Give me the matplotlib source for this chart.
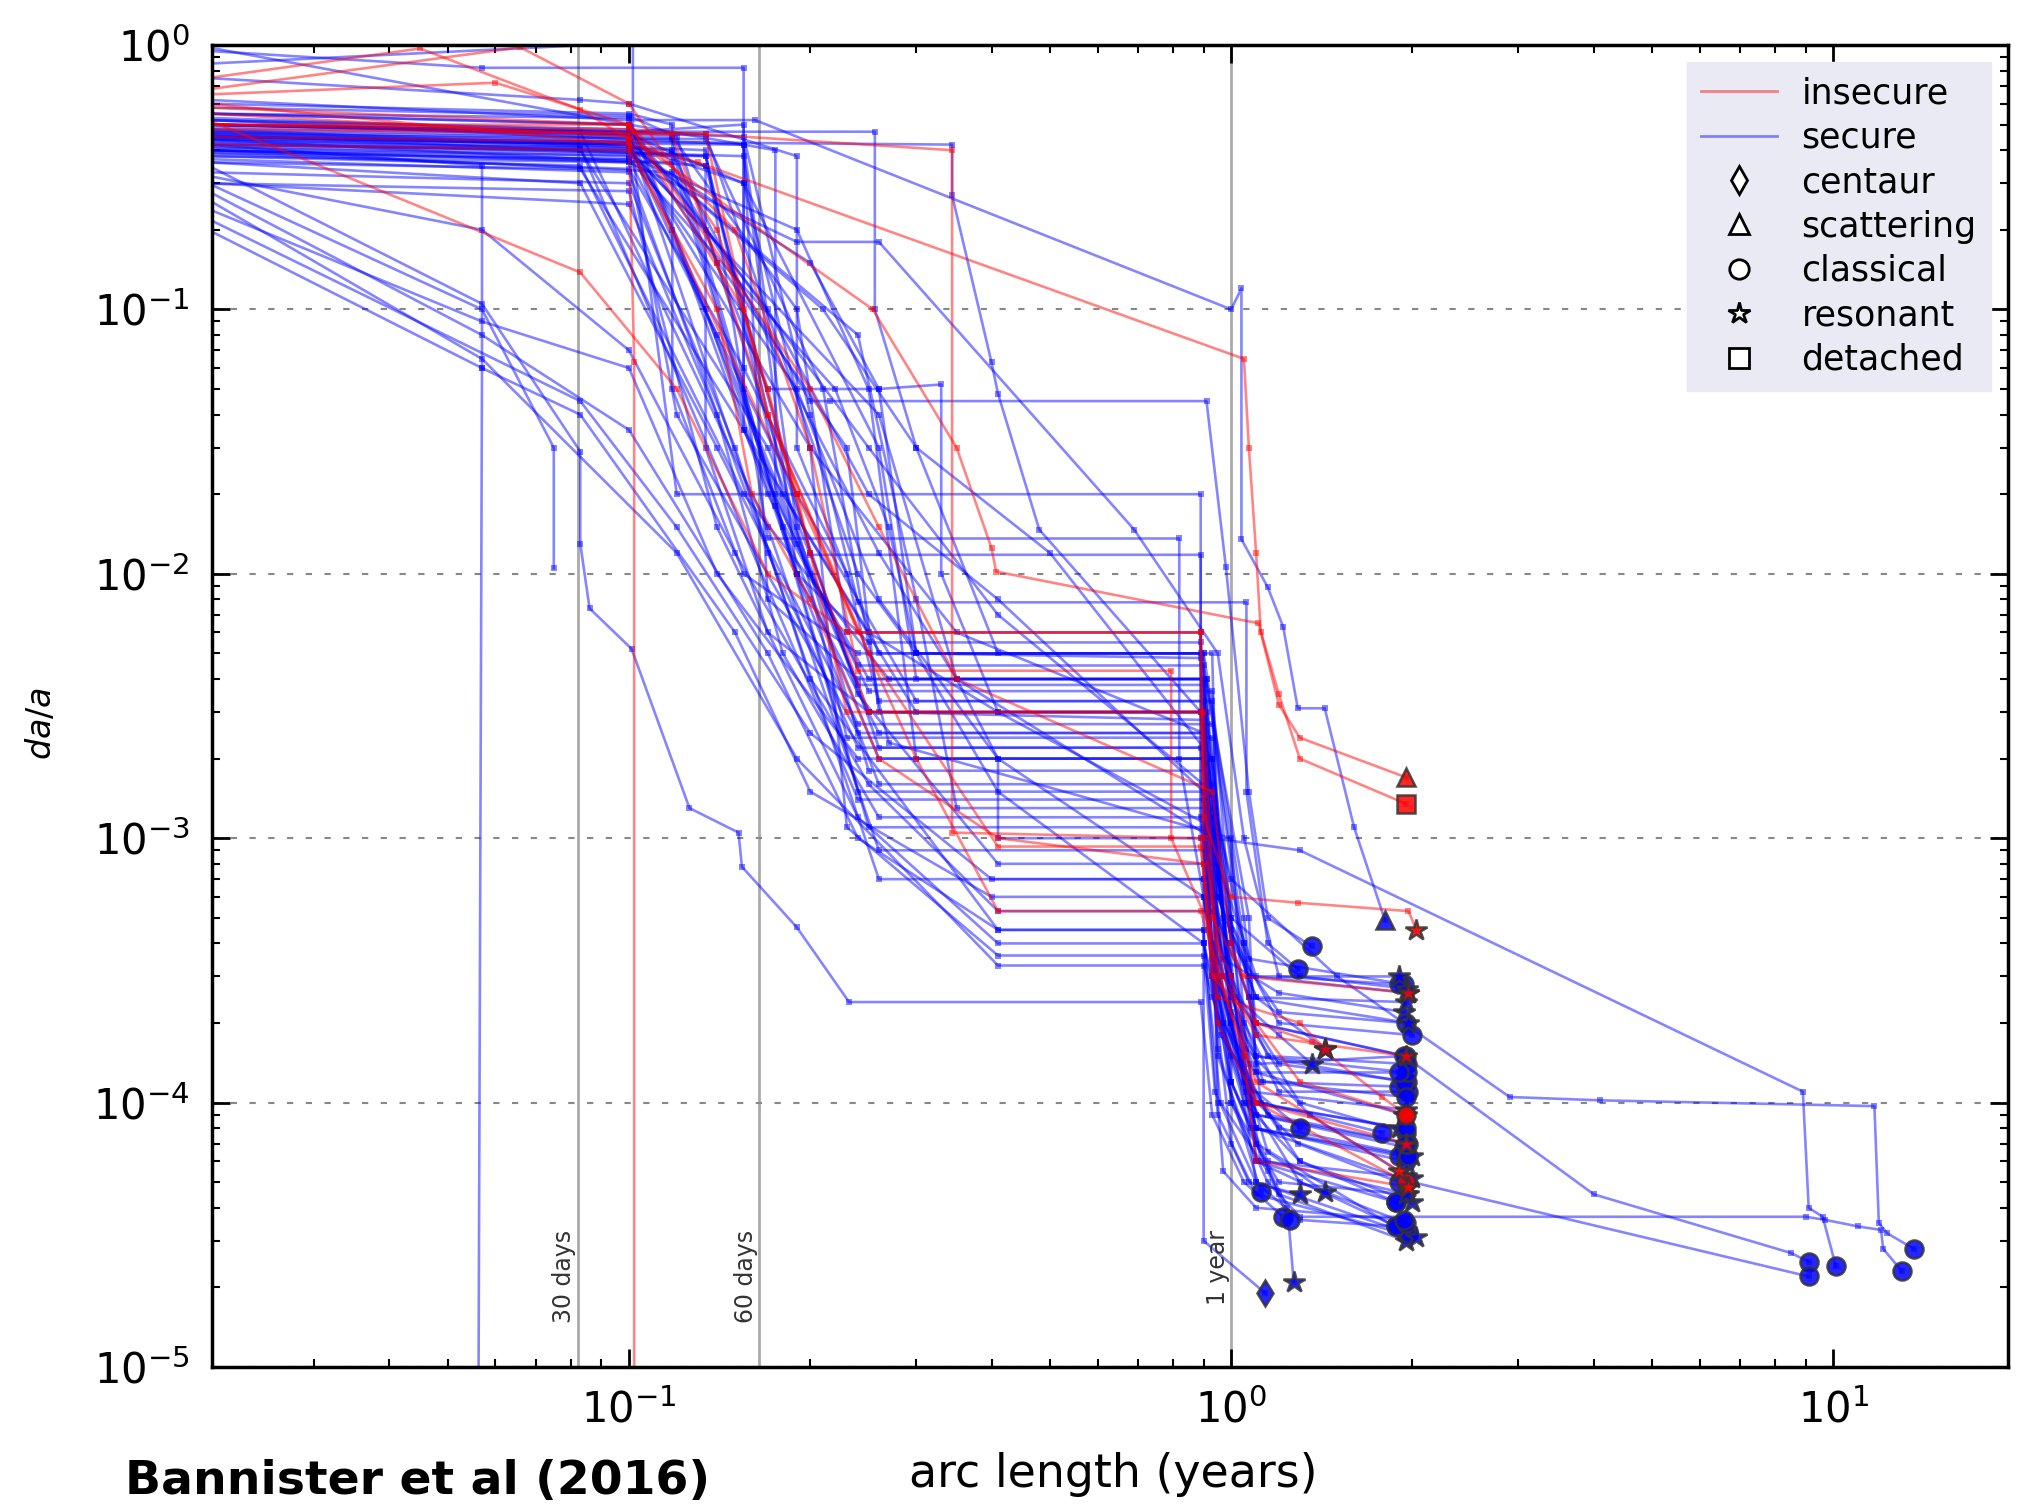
import matplotlib
matplotlib.use("Agg")
import matplotlib.pyplot as plt
from matplotlib.lines import Line2D

# orbit-fit histories: (arc length in years, da/a) for each object
secure_tracks = [
    [(.02, .95), (.057, .82), (.155, .82), (.155, .035), (.19, .013), (.25, 3.6e-3), (.93, 3.6e-3), (1.0, 4.5e-4), (1.06, 1.6e-4), (1.35, 9e-5), (1.95, 5.3e-5)],
    [(.02, .62), (.1, .52), (.162, .52), (1.0, .1), (1.04, .12), (1.04, .0135), (1.15, 8.9e-3), (1.22, 6.3e-3), (1.29, 3.1e-3), (1.43, 3.1e-3), (1.6, 1.1e-3), (1.8, 4.9e-4)],
    [(.02, .5), (.1, .47), (.256, .47), (.256, .1), (.3, .03), (.41, 5e-3), (.9, 5e-3), (1.05, 5e-4), (1.1, 2e-4), (1.95, 1.5e-4)],
    [(.02, .45), (.1, .43), (.344, .42), (.344, .27), (.4, .063), (.41, .048), (.48, .0147), (.89, 3e-3), (.97, 3e-4), (1.2, 1.4e-4), (1.96, 1.2e-4)],
    [(.02, .3), (.057, .1), (.075, .03), (.075, .0105)],
    [(.02, .35), (.057, .105), (.083, .029), (.083, .013), (.086, 7.4e-3), (.101, 5.2e-3), (.126, 1.3e-3), (.152, 1.05e-3), (.154, 7.8e-4), (.19, 4.6e-4), (.232, 2.4e-4), (.89, 2.4e-4), (.93, 9e-5), (1.05, 5e-5), (1.22, 3.7e-5)],
    [(.02, .4), (.118, .33), (.2, .045), (.216, .045), (.91, .045), (.98, .0106), (1.07, 1.5e-3), (1.15, 5e-4), (1.36, 3.9e-4)],
    [(.02, .55), (.1, .5), (.12, .02), (.89, .02), (.89, 1.2e-3), (.93, 4e-4), (1.1, 1.4e-4), (1.94, 1.5e-4)],
    [(.02, .48), (.134, .4), (.17, .0136), (.82, .0136), (.82, 2e-3), (.95, 3e-4), (1.1, 9e-5), (1.94, 6.8e-5)],
    [(.02, .42), (.083, .4), (.17, .03), (.2, .0118), (.89, .0118), (.89, 1e-3), (1.0, 2.5e-4), (1.2, 1.1e-4), (1.97, 1.1e-4)],
    [(.02, .52), (.155, .45), (.2, .04), (.24, 7.8e-3), (1.06, 7.8e-3), (1.06, 1.5e-3), (1.15, 4e-4), (1.29, 3.2e-4)],
    [(.02, .5), (.118, .45), (.19, .1), (.23, 6e-3), (.89, 6e-3), (.9, 1e-3), (.97, 3.5e-4), (1.2, 2.6e-4), (1.94, 2.2e-4)],
    [(.02, .44), (.1, .41), (.2, .15), (.26, .05), (.3, 5e-3), (.93, 5e-3), (.95, 7e-4), (1.02, 2.5e-4), (1.2, 1.8e-4), (1.36, 1.4e-4)],
    [(.02, .38), (.083, .35), (.155, .02), (.27, 4e-3), (.91, 4e-3), (.95, 6e-4), (1.1, 2.5e-4), (1.43, 1.6e-4)],
    [(.02, .46), (.134, .38), (.18, .02), (.3, 3e-3), (.89, 3e-3), (1.0, 5e-4), (1.06, 1.2e-4), (1.3, 6e-5), (1.88, 4.2e-5)],
    [(.02, .41), (.1, .38), (.19, .2), (.25, .05), (.3, 2e-3), (.93, 2e-3), (1.0, 2e-4), (1.1, 7e-5), (1.95, 3.2e-5)],
    [(.02, .36), (.083, .3), (.14, .03), (.24, 2.7e-3), (.93, 2.7e-3), (1.07, 2.5e-4), (1.12, 1e-4), (1.78, 7.7e-5)],
    [(.02, .52), (.155, .42), (.19, .015), (.25, 1.8e-3), (.91, 1.8e-3), (.96, 3e-4), (1.05, 1e-4), (1.3, 6e-5), (2.0, 4.2e-5)],
    [(.02, .47), (.118, .4), (.175, .018), (.24, 1.5e-3), (.9, 1.5e-3), (.95, 1.6e-4), (1.12, 4.6e-5)],
    [(.02, .33), (.1, .3), (.15, .03), (.2, 4e-3), (.41, 4.5e-4), (.9, 4.5e-4), (.9, 3e-5), (1.14, 1.9e-5)],
    [(.02, .4), (.1, .37), (.19, .02), (.3, 3.3e-3), (.93, 3.3e-3), (1.0, 1.2e-4), (1.1, 7e-5), (1.24, 4e-5), (1.27, 2.1e-5)],
    [(.02, .44), (.134, .35), (.2, .012), (.26, 2.2e-3), (.89, 2.2e-3), (1.05, 1.3e-4), (1.15, 6.5e-5), (1.43, 4.6e-5)],
    [(.02, .3), (.1, .28), (.14, .015), (.24, 1.2e-3), (.41, 4e-4), (.9, 4e-4), (1.0, 1.2e-4), (1.2, 4.5e-5), (1.95, 3e-5)],
    [(.02, .45), (.1, .42), (.14, .08), (.25, 3e-3), (.91, 3e-3), (.93, 1e-3), (1.3, 9e-4), (8.9, 1.1e-4), (9.1, 4e-5), (9.6, 3.7e-5), (10.1, 2.4e-5)],
    [(.02, .4), (.118, .36), (.18, .015), (.26, 2e-3), (.9, 2e-3), (1.0, 7e-4), (1.5, 3e-4), (2.9, 1.05e-4), (4.1, 1.02e-4), (11.7, 9.7e-5), (11.9, 3.5e-5), (12.3, 3.2e-5), (13.6, 2.8e-5)],
    [(.02, .5), (.1, .46), (.155, .3), (.26, .03), (.3, 4e-3), (.9, 4e-3), (1.0, 4e-4), (1.1, 2e-4), (1.94, 1.5e-4), (4.0, 4.5e-5), (8.5, 2.7e-5), (9.1, 2.5e-5)],
    [(.02, .43), (.155, .38), (.19, .01), (.26, 1.6e-3), (.93, 1.6e-3), (1.0, 2e-4), (1.1, 8e-5), (2.0, 5e-5), (9.1, 2.2e-5)],
    [(.02, .38), (.1, .36), (.12, .04), (.24, 2.5e-3), (.9, 2.5e-3), (1.0, 1e-4), (1.15, 5e-5), (1.3, 3.7e-5), (9.0, 3.7e-5), (9.7, 3.6e-5), (11.0, 3.4e-5), (12.0, 3.3e-5), (12.1, 2.8e-5), (13.0, 2.3e-5)],
    [(.02, .55), (.1, .53), (.134, .1), (.19, .01), (.25, 5.5e-3), (.89, 5.5e-3), (.95, 6e-4), (1.07, 3.5e-4), (1.94, 2.8e-4)],
    [(.02, .49), (.1, .46), (.118, .2), (.17, .02), (.24, 4.5e-3), (.9, 4.5e-3), (.95, 8e-4), (1.1, 3e-4), (1.97, 2.6e-4)],
    [(.02, .47), (.1, .43), (.24, .08), (.3, 8e-3), (.35, 1.3e-3), (.93, 1.3e-3), (1.0, 2.2e-4), (1.08, 8e-5), (1.9, 6.3e-5)],
    [(.02, .45), (.1, .42), (.2, .03), (.23, 1.1e-3), (.41, 3.6e-4), (.9, 3.6e-4), (.94, 1.1e-4), (1.1, 5e-5), (1.97, 3.2e-5)],
    [(.02, .5), (.083, .47), (.17, .015), (.26, 9e-4), (.91, 9e-4), (1.05, 1.5e-4), (1.12, 6e-5), (2.0, 5.2e-5)],
    [(.02, .42), (.1, .4), (.134, .2), (.24, 3.5e-3), (.41, 8e-4), (.9, 8e-4), (.95, 2e-4), (1.08, 1.1e-4), (1.95, 9.4e-5)],
    [(.02, .39), (.1, .37), (.22, .05), (.27, .015), (.3, 5e-3), (.41, 1.5e-3), (.9, 4e-4), (1.0, 1.5e-4), (1.1, 8e-5), (1.95, 6e-5)],
    [(.02, .44), (.1, .4), (.26, .04), (.35, 4e-3), (.41, 2e-3), (.9, 6e-4), (.97, 2e-4), (1.12, 1.2e-4), (1.9, 1.15e-4)],
    [(.02, .36), (.083, .34), (.155, .035), (.25, 6e-3), (.41, 3e-3), (.93, 1.1e-3), (1.0, 3e-4), (1.15, 1.5e-4), (1.96, 1.4e-4)],
    [(.02, .46), (.1, .42), (.155, .3), (.2, .03), (.35, 6e-3), (.9, 2.5e-3), (.95, 6e-4), (1.1, 2.5e-4), (1.95, 2.4e-4)],
    [(.02, .55), (.1, .5), (.25, .03), (.41, 7e-3), (.93, 1.5e-3), (1.0, 4e-4), (1.2, 2.2e-4), (1.95, 2e-4)],
    [(.02, .32), (.057, .2), (.1, .07), (.15, .012), (.25, 1.6e-3), (.41, 5.3e-4), (.93, 5.3e-4), (1.07, 1.4e-4), (1.1, 6e-5), (1.88, 3.4e-5)],
    [(.02, .28), (.057, .08), (.1, .035), (.17, 5e-3), (.24, 1e-3), (.41, 4.5e-4), (.9, 4.5e-4), (.95, 9e-5), (1.1, 4.5e-5), (2.03, 3.1e-5)],
    [(.02, .26), (.057, .065), (.12, .012), (.19, 2e-3), (.41, 3.3e-4), (.9, 3.3e-4), (1.05, 1e-4), (1.1, 5e-5), (1.3, 3.6e-5), (1.88, 3.4e-5)],
    [(.02, .2), (.057, .06), (.083, .04), (.15, 6e-3), (.2, 1.5e-3), (.4, 6e-4), (.9, 6e-4), (.96, 1.8e-4), (1.2, 8e-5), (2.0, 6.3e-5)],
    [(.02, .24), (.057, .09), (.1, .06), (.14, .01), (.24, 2e-3), (.9, 2e-3), (1.05, 4e-4), (1.1, 1.8e-4), (1.3, 1e-4), (1.95, 7.7e-5)],
    [(.02, .22), (.083, .045), (.12, .015), (.2, 2.5e-3), (.4, 7e-4), (.9, 7e-4), (1.0, 1.2e-4), (1.15, 6e-5), (1.97, 4.5e-5)],
    [(.02, .3), (.1, .25), (.14, .04), (.18, 5e-3), (.26, 1.2e-3), (.93, 1.2e-3), (1.0, 3e-4), (1.06, 1.1e-4), (1.29, 7e-5), (1.9, 5e-5)],
    [(.02, .5), (.1, .47), (.155, .5), (.155, .05), (.19, .01), (.26, 2.5e-3), (.9, 2.5e-3), (.93, 3e-4), (1.1, 1.5e-4), (1.94, 1.2e-4)],
    [(.02, .6), (.1, .55), (.118, .5), (.118, .05), (.155, .01), (.24, 5e-3), (.89, 5e-3), (1.07, 5e-4), (1.1, 1.3e-4), (1.94, 9e-5)],
    [(.02, .45), (.1, .42), (.134, .35), (.134, .03), (.17, 6e-3), (.25, 3e-3), (.9, 3e-3), (.97, 5e-4), (1.2, 2e-4), (2.0, 1.8e-4)],
    [(.02, .42), (.1, .4), (.19, .05), (.26, 8e-3), (.41, 2e-3), (.41, 1e-3), (.9, 1e-3), (1.0, 3e-4), (1.13, 1.2e-4), (1.95, 1.05e-4)],
    [(.02, .37), (.1, .33), (.17, .012), (.24, 2.2e-3), (.9, 2.2e-3), (.9, 4e-4), (.96, 1e-4), (1.15, 5.5e-5), (1.25, 3.6e-5)],
    [(.02, .85), (.1015, 1.02), (.1015, .47), (.2, .01), (.25, 4e-3), (.91, 4e-3), (1.05, 4e-4), (1.1, 1.5e-4), (1.96, 1.3e-4)],
    [(.02, .98), (.1, .5), (.175, .4), (.175, .02), (.24, 3.8e-3), (.9, 3.8e-3), (.93, 3.5e-4), (1.1, 1e-4), (1.9, 8e-5)],
    [(.02, .75), (.083, .62), (.1, .6), (.19, .38), (.19, .03), (.26, 5e-3), (.9, 5e-3), (.92, 6e-4), (1.07, 2.5e-4), (1.97, 2e-4)],
    [(.02, .46), (.118, .44), (.25, 1.1e-3), (.9, 1.1e-3), (.95, 1.5e-4), (1.1, 6e-5), (1.88, 4.2e-5)],
    [(.02, .43), (.083, .41), (.24, 1.4e-3), (.9, 1.4e-3), (.93, 2.5e-4), (1.07, 1e-4), (1.95, 8e-5)],
    [(.02, .48), (.1, .45), (.26, 7e-4), (.9, 7e-4), (1.0, 1e-4), (1.2, 5e-5), (1.95, 4.5e-5)],
    [(.02, .4), (.134, .38), (.23, 2.4e-3), (.93, 2.4e-3), (1.0, 2e-4), (1.1, 8e-5), (1.97, 6.3e-5)],
    [(.02, .52), (.1, .48), (.17, .1), (.25, .02), (.41, 8e-3), (.9, 1.5e-3), (.97, 2e-4), (1.15, 9e-5), (1.97, 7e-5)],
    [(.02, .4), (.1, .36), (.19, .18), (.26, .18), (.69, .0147), (.95, 5e-3), (1.05, 1e-3), (1.2, 3e-4), (1.9, 2.8e-4)],
    [(.02, .45), (.1, .43), (.21, .1), (.3, .03), (.5, .012), (.93, 2e-3), (1.0, 5e-4), (1.3, 3e-4), (1.96, 2.7e-4)],
    [(.02, .42), (.057, .35), (.057, .06), (.0562, 5e-6)],
    [(.02, .58), (.1, .54), (.12, .45), (.14, .15), (.17, .05), (.26, .05), (.33, .052), (.33, .01), (.41, 3e-3), (.9, 3e-3), (.95, 3e-4), (1.05, 1.2e-4), (1.3, 8e-5)],
    [(.02, .5), (.1, .46), (.23, .03), (.26, 3e-3), (.9, 2.8e-3), (.95, 2.5e-4), (1.08, 1e-4), (1.3, 5e-5), (1.95, 3.5e-5)],
    [(.02, .44), (.155, .42), (.17, 8e-3), (.24, 4e-3), (.9, 4e-3), (.93, 8e-4), (1.07, 3e-4), (1.9, 3e-4)],
    [(.02, .47), (.134, .44), (.21, .05), (.26, 3.3e-3), (.9, 3.3e-3), (.95, 3e-4), (1.1, 1.3e-4), (1.9, 1.3e-4)],
    [(.02, .41), (.118, .39), (.26, .012), (.35, 4e-3), (.93, 1e-3), (.95, 1e-4), (.97, 5.5e-5), (1.1, 4e-5), (1.94, 3.6e-5)],
    [(.02, .53), (.134, .46), (.24, .01), (.3, 5e-3), (.89, 4.8e-3), (.93, 3e-4), (1.0, 7e-5), (1.07, 5e-5), (1.3, 4.5e-5)],
    [(.02, .39), (.1, .34), (.155, .06), (.23, .01), (.27, 2.3e-3), (1.0, 1e-3), (1.05, 2e-4), (1.1, 9e-5), (1.95, 7e-5)],
]
# final class of each secure object: c classical, r resonant, s scattering, d detached, n centaur, '' none
secure_ends = [
    'r', 's', 'c', 'c', '', 'c', 'c', 'c', 'c', 'c',
    'c', 'r', 'r', 'r', 'c', 'c', 'c', 'r', 'c', 'n',
    'r', 'r', 'r', 'c', 'c', 'c', 'c', 'c', 'c', 'r',
    'c', 'c', 'r', 'r', 'c', 'c', 'c', 'r', 'c', 'c',
    'r', 'c', 'r', 'c', 'r', 'c', 'c', 'r', 'c', 'c',
    'c', 'c', 'r', 'r', 'c', 'c', 'r', 'c', 'c', 'c',
    'r', '', 'c', 'c', 'r', 'c', 'c', 'r', 'c',
]

insecure_tracks = [
    [(.02, .6), (.1, .42), (.13, .36), (1.05, .065), (1.07, .03), (1.1, .012), (1.12, 6e-3), (1.2, 3.2e-3), (1.3, 2.4e-3), (1.95, 1.7e-3)],
    [(.02, .55), (.1, .45), (.254, .1), (.35, .03), (.4, .0125), (.407, .0102), (1.11, 6.5e-3), (1.2, 3.5e-3), (1.3, 2e-3), (1.95, 1.35e-3)],
    [(.02, .5), (.1, .48), (.344, .4), (.344, 1.05e-3), (.89, 1e-3), (.93, 3e-4), (1.1, 2e-4), (1.36, 1.7e-4), (1.78, 1.05e-4), (1.95, 9e-5)],
    [(.02, .75), (.045, .97), (.083, .57), (.1, .44), (.102, .063), (.102, 5e-6)],
    [(.02, .52), (.083, .138), (.12, .05), (.17, .01), (.23, 6e-3), (.89, 6e-3), (.9, 1.2e-3), (1.0, 6e-4), (1.29, 5.7e-4), (1.97, 5.3e-4), (2.03, 4.5e-4)],
    [(.02, .65), (.06, .72), (.1, .5), (.15, .2), (.2, .03), (.24, 4.3e-3), (.795, 4.3e-3), (.795, 1e-3), (1.0, 3e-4), (1.1, 1e-4), (1.95, 5e-5)],
    [(.02, .5), (.1, .5), (.155, .1), (.19, .02), (.23, 3e-3), (.89, 3e-3), (.93, 5e-4), (1.05, 3e-4), (1.97, 2.6e-4)],
    [(.02, .48), (.134, .46), (.17, .04), (.25, 5e-3), (.41, 9.3e-4), (.89, 9.3e-4), (.95, 2e-4), (1.1, 1e-4), (1.95, 7e-5)],
    [(.02, .45), (.1, .43), (.19, .02), (.3, 2e-3), (.41, 5.3e-4), (.89, 5.3e-4), (1.05, 1.5e-4), (1.1, 6e-5), (1.97, 4.8e-5)],
    [(.02, .58), (.1, .5), (.2, .05), (.26, .015), (.35, 4e-3), (.93, 1.5e-3), (1.0, 4e-4), (1.1, 2e-4), (1.3, 1.2e-4), (1.95, 9e-5)],
    [(.02, .68), (.066, .98), (.1, .6), (.14, .2), (.17, .05), (.2, .012), (.25, 3e-3), (.9, 3e-3), (.95, 3e-4), (1.1, 1.2e-4), (1.9, 5.5e-5)],
    [(.02, .42), (.1, .4), (.14, .1), (.16, .02), (.2, 8e-3), (.26, 2e-3), (.41, 1e-3), (.9, 8e-4), (.95, 2.5e-4), (1.3, 2e-4), (1.43, 1.6e-4)],
    [(.02, .5), (.118, .46), (.14, .15), (.17, .04), (.24, 6e-3), (.89, 6e-3), (.9, 1e-3), (.97, 3e-4), (1.1, 1.8e-4), (1.95, 1.5e-4)],
]
insecure_ends = ['s', 'd', 'r', '', 'r', 'c', 'r', 'r', 'r', 'c', 'r', 'r', 'r']

class_markers = {'n': 'd', 's': '^', 'c': 'o', 'r': '*', 'd': 's'}
class_names = [('n', 'centaur'), ('s', 'scattering'), ('c', 'classical'),
               ('r', 'resonant'), ('d', 'detached')]

day_lines = [(30 / 365.25, '30 days'), (60 / 365.25, '60 days'), (1.0, '1 year')]

fig = plt.figure(figsize=(20.24, 15.07), dpi=100)
ax = fig.add_axes([212 / 2024, 1 - 1367 / 1507, 1796 / 2024, 1322 / 1507])
ax.set_xscale('log')
ax.set_yscale('log')


def draw(tracks, ends, colour):
    for pts, end in zip(tracks, ends):
        xs = [p[0] for p in pts]
        ys = [p[1] for p in pts]
        ax.plot(xs, ys, color=colour, lw=1.9, alpha=0.48, marker='s', ms=4,
                mew=0, zorder=2)
        if end:
            size = 16 if end == 'r' else 13
            ax.plot(xs[-1], ys[-1], marker=class_markers[end], ms=size,
                    mfc=colour, mec='#333333', mew=1.8, alpha=0.85, ls='none',
                    zorder=4)


draw(secure_tracks, secure_ends, 'blue')
draw(insecure_tracks, insecure_ends, 'red')

for xv, lab in day_lines:
    ax.axvline(xv, color='#aaaaaa', lw=2, zorder=1)
    ax.text(xv * 0.995, 3.3e-5, lab, rotation=90, ha='right', va='top',
            fontsize=17, color='#333333')

ax.set_xlim(0.0203, 19.5)
ax.set_ylim(1e-5, 1)
ax.yaxis.grid(True, which='major', color='#888888', lw=1.5, ls=(0, (3, 6)))

ax.tick_params(which='both', direction='in', top=True, right=True,
               labelsize=30, pad=16)
ax.tick_params(which='major', length=13, width=2)
ax.tick_params(which='minor', length=6, width=1.5)
for sp in ax.spines.values():
    sp.set_linewidth(2.5)

ax.set_xlabel('arc length (years)', fontsize=33)
ax.xaxis.set_label_coords(0.502, -0.064)
ax.set_ylabel('$da/a$', fontsize=24)
ax.yaxis.set_label_coords(-0.086, 0.487)

handles = [Line2D([], [], color='red', lw=2, alpha=0.45, label='insecure'),
           Line2D([], [], color='blue', lw=2, alpha=0.45, label='secure')]
for key, name in class_names:
    handles.append(Line2D([], [], marker=class_markers[key], ls='none',
                          ms=16 if key == 'r' else 14, mfc='white',
                          mec='black', mew=2, label=name))
leg = ax.legend(handles=handles, loc='upper right', fontsize=25,
                handlelength=2.2, handletextpad=0.7, labelspacing=0.3,
                borderaxespad=0.5, fancybox=False, framealpha=1)
leg.get_frame().set_facecolor('#eaeaf5')
leg.get_frame().set_edgecolor('#eaeaf5')
leg.set_zorder(6)

fig.text(0.0618, 0.0166, 'Bannister et al (2016)', fontsize=34,
         fontweight='bold', va='center')

fig.savefig('out.png', dpi=100)
